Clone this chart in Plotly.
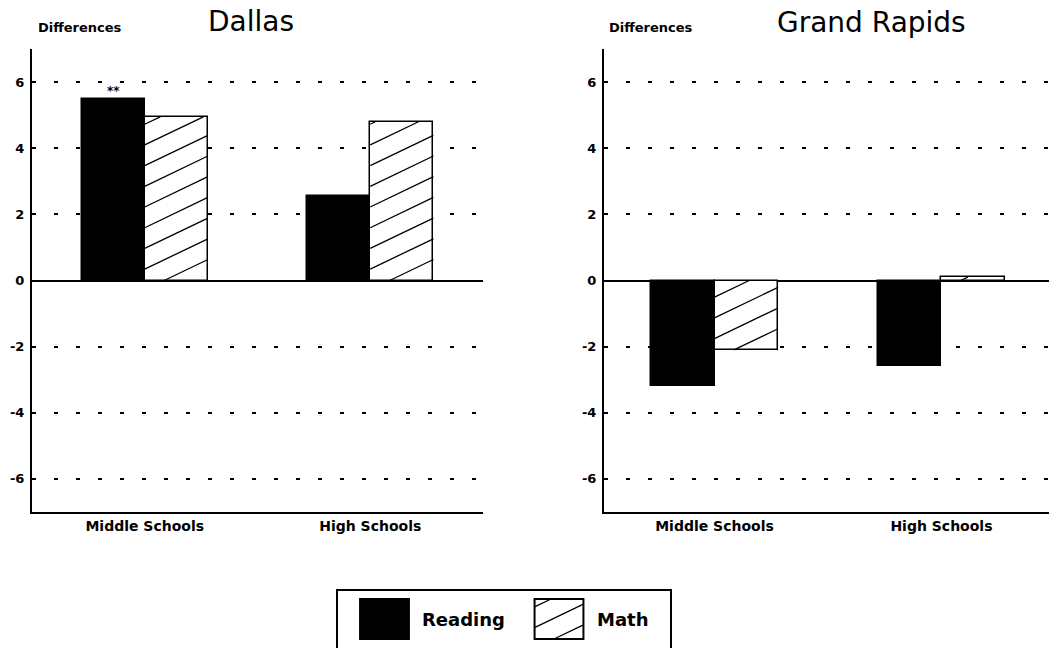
import math
import plotly.graph_objects as go

# ---- data -------------------------------------------------------------
categories = ["Middle Schools", "High Schools"]
cities = ["Dallas", "Grand Rapids"]
reading = {"Dallas": [5.5, 2.55], "Grand Rapids": [-3.2, -2.6]}
math_scores = {"Dallas": [4.95, 4.8], "Grand Rapids": [-2.1, 0.1]}
significance = {"Dallas": ["**", ""], "Grand Rapids": ["", ""]}
y_ticks = [-6, -4, -2, 0, 2, 4, 6]
legend_keys = ["Reading", "Math"]
legend_fill = ["black", "rgba(0,0,0,0)"]
legend_hatched = [False, True]

# ---- layout constants -------------------------------------------------
W, H = 1049, 648
BAR_W = 0.28
FONT = "DejaVu Sans"
Y_RANGE = [-7, 7]
Y_DOMAIN = [1 - 512 / H, 1 - 49 / H]
X_DOMAINS = [[32 / W, 483 / W], [604 / W, 1.0]]
X_RANGES = [[-0.5, 1.5], [-0.487, 1.474]]
LEG_X_DOMAIN = [297.25 / W, 646.25 / W]
LEG_Y_DOMAIN = [1 - 640 / H, 1 - 598 / H]
LEG_X_RANGE = [-0.5, 1.5]
LEG_Y_RANGE = [-0.025, 1.025]

# hatching: rising lines, slope and vertical spacing in screen pixels
HATCH_SLOPE = 0.48
HATCH_SPACING = 20.7
HATCH_PHASE = 0.55


def px_per_unit(domain, rng, size):
    return (domain[1] - domain[0]) * size / (rng[1] - rng[0])


def hatch_lines(x0, x1, y0, y1, ppx, ppy):
    """Diagonal hatch segments clipped to a rectangle, in data units."""
    s = HATCH_SLOPE * ppx / ppy
    dy = HATCH_SPACING / ppy
    w, h = x1 - x0, y1 - y0
    xs, ys = [], []
    k0 = math.floor(-s * w / dy) - 1
    k1 = math.ceil(h / dy) + 1
    for k in range(k0, k1 + 1):
        c = (k + HATCH_PHASE) * dy
        xa = max(x0, x0 - c / s)
        xb = min(x1, x0 + (h - c) / s)
        if xb > xa:
            xs += [xa, xb, None]
            ys += [y0 + c + s * (xa - x0), y0 + c + s * (xb - x0), None]
    return xs, ys


fig = go.Figure()
pos = list(range(len(categories)))

for i, city in enumerate(cities):
    xa = "x" if i == 0 else "x2"
    ya = "y" if i == 0 else "y2"
    ppx = px_per_unit(X_DOMAINS[i], X_RANGES[i], W)
    ppy = px_per_unit(Y_DOMAIN, Y_RANGE, H)

    fig.add_trace(go.Bar(
        x=[p - BAR_W / 2 for p in pos], y=reading[city], width=BAR_W,
        marker=dict(color="black", line=dict(color="black", width=1.5)),
        xaxis=xa, yaxis=ya, showlegend=False, name="Reading",
    ))
    fig.add_trace(go.Bar(
        x=[p + BAR_W / 2 for p in pos], y=math_scores[city], width=BAR_W,
        marker=dict(color="white", line=dict(color="black", width=1.5)),
        xaxis=xa, yaxis=ya, showlegend=False, name="Math",
    ))
    hx, hy = [], []
    for p, v in zip(pos, math_scores[city]):
        sx, sy = hatch_lines(p, p + BAR_W, min(0, v), max(0, v), ppx, ppy)
        hx += sx
        hy += sy
    fig.add_trace(go.Scatter(
        x=hx, y=hy, mode="lines", line=dict(color="black", width=1.3),
        xaxis=xa, yaxis=ya, showlegend=False, hoverinfo="skip",
    ))

    for p, v, mark in zip(pos, reading[city], significance[city]):
        if mark:
            fig.add_annotation(
                x=p - BAR_W / 2, y=v, xref=xa, yref=ya, text=mark,
                showarrow=False, yanchor="bottom", yshift=-1,
                font=dict(family=FONT, size=12, color="black", weight="bold"),
            )

# ---- legend keys drawn on a small helper axis ------------------------
lppx = px_per_unit(LEG_X_DOMAIN, LEG_X_RANGE, W)
lppy = px_per_unit(LEG_Y_DOMAIN, LEG_Y_RANGE, H)
for k, (fill, hatched) in enumerate(zip(legend_fill, legend_hatched)):
    kx0, kx1 = k - BAR_W / 2, k + BAR_W / 2
    fig.add_shape(
        type="rect", xref="x3", yref="y3", x0=kx0, x1=kx1, y0=0, y1=1,
        fillcolor=fill, line=dict(color="black", width=2), layer="above",
    )
    if hatched:
        lx, ly = hatch_lines(kx0, kx1, 0, 1, lppx, lppy)
        fig.add_trace(go.Scatter(
            x=lx, y=ly, mode="lines", line=dict(color="black", width=1.3),
            xaxis="x3", yaxis="y3", showlegend=False, hoverinfo="skip",
        ))

tick_font = dict(family=FONT, size=13, color="black", weight="bold")

axis_common_x = dict(
    tickvals=pos, ticktext=categories, showgrid=False,
    zeroline=False, showline=True, linecolor="black", linewidth=2,
    ticks="", tickfont=dict(family=FONT, size=14, color="black", weight="bold"),
    ticklabelstandoff=0, fixedrange=True,
)
axis_common_y = dict(
    range=Y_RANGE, domain=Y_DOMAIN, tickvals=y_ticks,
    ticktext=[str(v) for v in y_ticks], showgrid=True,
    gridcolor="black", gridwidth=1.5, griddash="4px,18px",
    zeroline=True, zerolinecolor="black", zerolinewidth=2,
    showline=True, linecolor="black", linewidth=2, ticks="",
    tickfont=tick_font, ticklabelstandoff=3, fixedrange=True,
)

fig.update_layout(
    width=W, height=H, margin=dict(l=0, r=0, t=0, b=0),
    paper_bgcolor="white", plot_bgcolor="white",
    barmode="overlay", bargap=0,
    xaxis=dict(axis_common_x, domain=X_DOMAINS[0], range=X_RANGES[0], anchor="y"),
    yaxis=dict(axis_common_y, anchor="x"),
    xaxis2=dict(axis_common_x, domain=X_DOMAINS[1], range=X_RANGES[1], anchor="y2"),
    yaxis2=dict(axis_common_y, anchor="x2"),
    xaxis3=dict(domain=LEG_X_DOMAIN, range=LEG_X_RANGE, visible=False,
                anchor="y3", fixedrange=True),
    yaxis3=dict(domain=LEG_Y_DOMAIN, range=LEG_Y_RANGE, visible=False,
                anchor="x3", fixedrange=True),
    showlegend=False,
)

# titles and y-axis captions
title_pos = [(251, 21), (871, 22)]
caption_x = [36, 607]
for i, city in enumerate(cities):
    fig.add_annotation(
        x=title_pos[i][0] / W, y=1 - title_pos[i][1] / H, xref="paper", yref="paper",
        text=city, showarrow=False, xanchor="center", yanchor="middle",
        font=dict(family=FONT, size=28, color="black"),
    )
    fig.add_annotation(
        x=caption_x[i] / W, y=1 - 28 / H, xref="paper", yref="paper",
        text="Differences", showarrow=False, xanchor="left", yanchor="middle",
        font=dict(family=FONT, size=13, color="black", weight="bold"),
    )

# legend frame and labels
fig.add_shape(
    type="rect", xref="paper", yref="paper",
    x0=337 / W, x1=671 / W, y0=-0.03, y1=1 - 590 / H,
    line=dict(color="black", width=2), fillcolor="rgba(0,0,0,0)", layer="below",
)
legend_text_x = [420, 595]
for key, tx in zip(legend_keys, legend_text_x):
    fig.add_annotation(
        x=tx / W, y=1 - 619 / H, xref="paper", yref="paper", text=key,
        showarrow=False, xanchor="left", yanchor="middle",
        font=dict(family=FONT, size=18, color="black", weight="bold"),
    )

fig.write_html("out.html")
